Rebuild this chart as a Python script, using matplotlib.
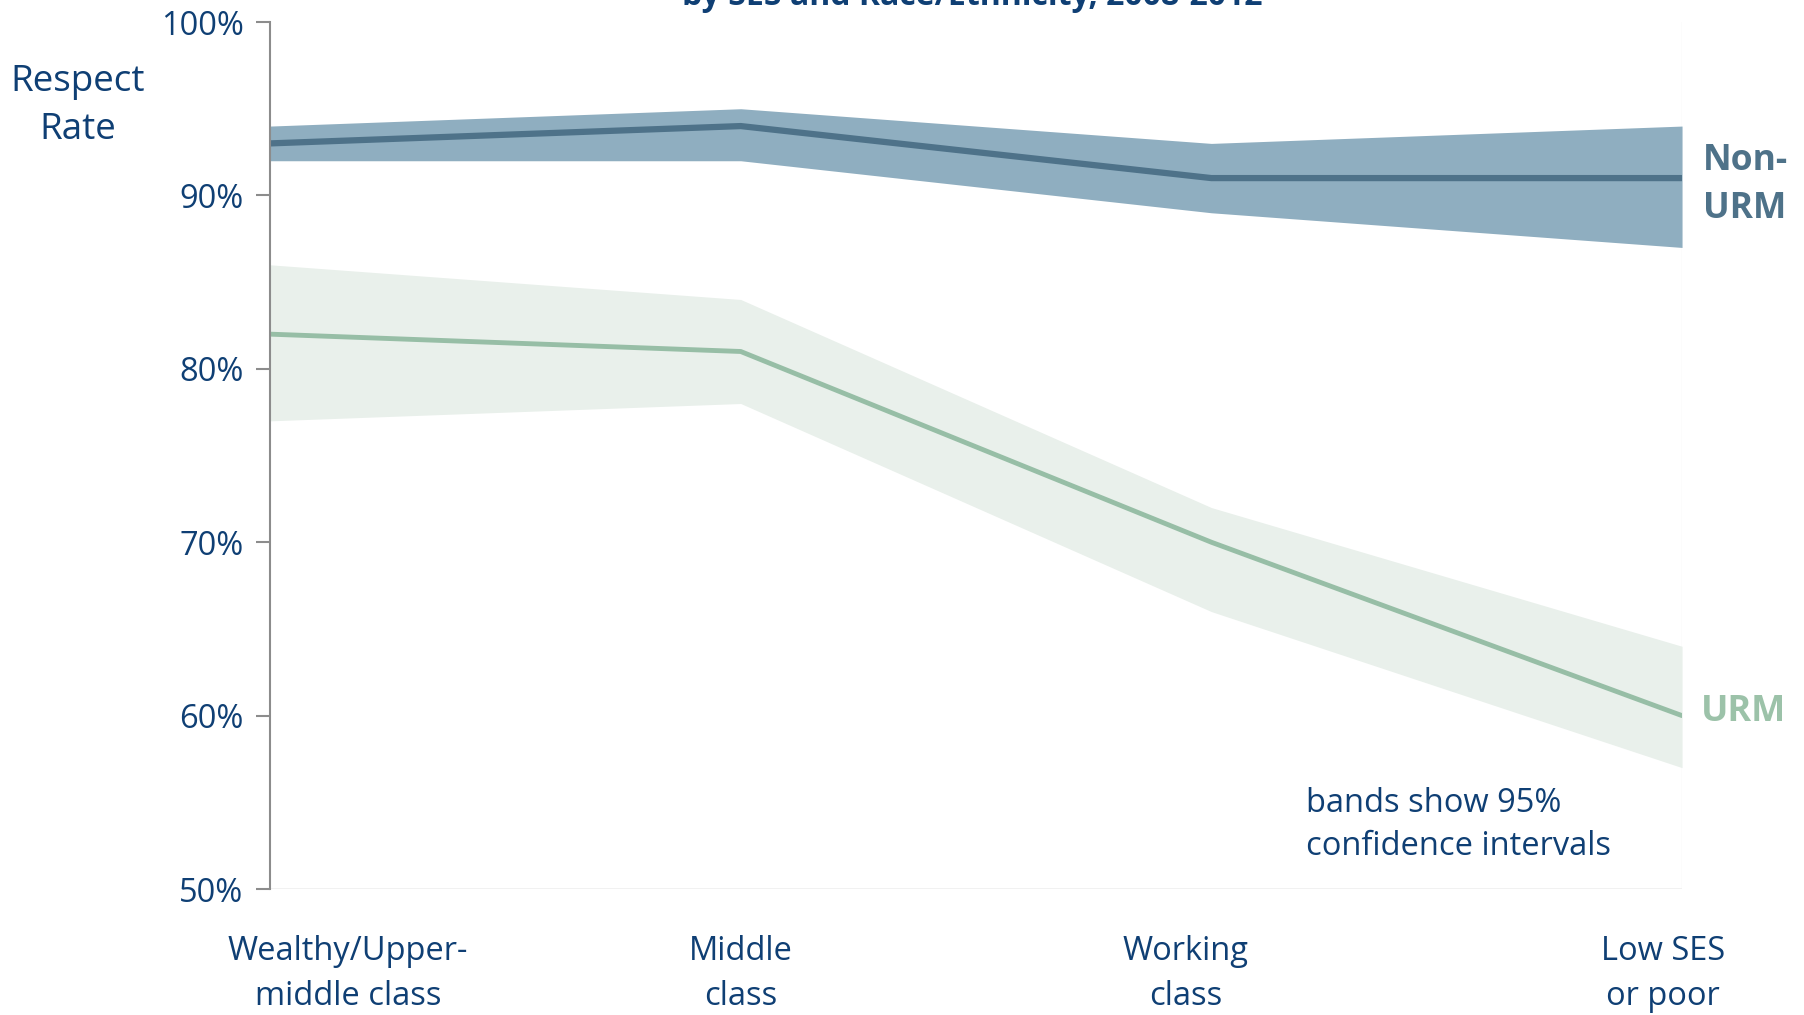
import numpy as np
from matplotlib import pyplot as plt

plt.rcParams['font.family'] = ['Open Sans', 'DejaVu Sans']

categories = ["Wealthy/Upper-\nmiddle class", "Middle\nclass", "Working\nclass", "Low SES\nor poor"]
nonurm = [93, 94, 91, 91]
nonurm_lo = [92, 92, 89, 87]
nonurm_hi = [94, 95, 93, 94]
urm = [82, 81, 70, 60]
urm_lo = [77, 78, 66, 57]
urm_hi = [86, 84, 72, 64]
yticks = [50, 60, 70, 80, 90, 100]

navy = "#0F3F74"
dark = "#4E7289"
green = "#97BEA6"

fig = plt.figure(figsize=(18.04, 10.15), dpi=100)
ax = fig.add_axes([0.1497, 0.1241, 0.7827, 0.8542])
x = np.arange(len(categories))

ax.fill_between(x, urm_lo, urm_hi, color="#E9F0EB", lw=0)
ax.fill_between(x, nonurm_lo, nonurm_hi, color="#8FAEC0", lw=0)
ax.plot(x, urm, color=green, lw=3.5, solid_capstyle="round")
ax.plot(x, nonurm, color=dark, lw=4.5, solid_capstyle="round")
ax.axvline(x[-1], color="#F3F3F3", lw=1, zorder=0)
ax.axhline(50, color="#EFEFEF", lw=1.2, zorder=0)

ax.set_xlim(0, 3)
ax.set_ylim(50, 100)
ax.set_yticks(yticks)
ax.set_yticklabels([f"{v}%" for v in yticks], color=navy, fontsize=23.5)
ax.tick_params(axis="y", direction="out", length=10, width=1.5, color="#8C8C8C", pad=9)
ax.set_xticks([])
for s in ["top", "right", "bottom"]:
    ax.spines[s].set_visible(False)
ax.spines["left"].set_color("#8C8C8C")
ax.spines["left"].set_linewidth(1.5)

# category labels (first one is shifted right like in the original)
label_x = [0.166, 1.0, 1.946, 2.96]
for lx, lab in zip(label_x, categories):
    ax.text(lx, 45.1, lab, ha="center", va="center", color=navy, fontsize=23.5,
            linespacing=1.5, clip_on=False)

ax.text(3.044, 90.6, "Non-\nURM", ha="left", va="center", color=dark, fontsize=25.5,
        fontweight="bold", linespacing=1.42, clip_on=False)
ax.text(3.04, 60.2, "URM", ha="left", va="center", color="#9CC2A9", fontsize=26,
        fontweight="bold", clip_on=False)
ax.text(2.2, 53.7, "bands show 95%\nconfidence intervals", ha="left", va="center",
        color=navy, fontsize=23.5, linespacing=1.4)

fig.text(78 / 1804, 1 - 106 / 1015, "Respect\nRate", ha="center", va="center",
         color=navy, fontsize=26.5, linespacing=1.45)
fig.text(972 / 1804, 1 - 5 / 1015, "by SES and Race/Ethnicity, 2008-2012", ha="center",
         va="baseline", color=navy, fontsize=23, fontweight="bold")

fig.savefig("out.png", dpi=100)
